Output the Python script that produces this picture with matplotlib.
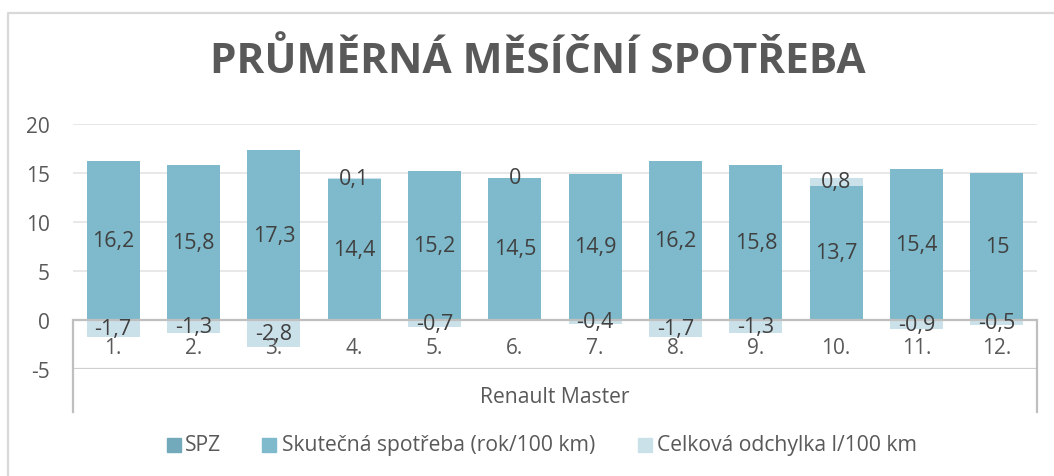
import matplotlib
matplotlib.use('Agg')
import matplotlib.pyplot as plt
from matplotlib.patches import Rectangle
from matplotlib.lines import Line2D

# ---- data ----
months = ['1.', '2.', '3.', '4.', '5.', '6.', '7.', '8.', '9.', '10.', '11.', '12.']
spotreba = [16.2, 15.8, 17.3, 14.4, 15.2, 14.5, 14.9, 16.2, 15.8, 13.7, 15.4, 15]
odchylka = [-1.7, -1.3, -2.8, 0.1, -0.7, 0, -0.4, -1.7, -1.3, 0.8, -0.9, -0.5]
group_label = 'Renault Master'
series_names = ['SPZ', 'Skutečná spotřeba (rok/100 km)', 'Celková odchylka l/100 km']
title = 'PRŮMĚRNÁ MĚSÍČNÍ SPOTŘEBA'
yticks = [-5, 0, 5, 10, 15, 20]

# ---- style ----
FONT = 'Open Sans'
C_SPZ = '#72AABB'
C_SKUT = '#7EBACB'
C_ODCH = '#CBE1E9'
TXT = '#595959'
LBL = '#404040'
FS_LBL = 15.5
FS_TICK = 15
FS_LEG = 15.2

W, H = 1054, 477
fig = plt.figure(figsize=(W / 100, H / 100), dpi=100)
fig.patch.set_facecolor('white')

def fx(px):
    return px / W

def fy(py):
    return 1 - py / H

ax_l, ax_r, ax_t, ax_b = 73, 1037, 125, 370
ax = fig.add_axes([fx(ax_l), fy(ax_b), fx(ax_r) - fx(ax_l), fy(ax_t) - fy(ax_b)])
ax.set_xlim(-0.5, len(months) - 0.5)
ax.set_ylim(-5, 20)
for s in ax.spines.values():
    s.set_visible(False)
ax.set_xticks([])
ax.set_yticks(yticks)
ax.set_yticklabels([str(v) for v in yticks], fontfamily=FONT, fontsize=FS_TICK, color=TXT)
ax.tick_params(axis='y', length=0, pad=16.5)

# gridlines
for v in [5, 10, 15, 20]:
    ax.axhline(v, color='#E6E6E6', lw=1.3, zorder=0)
ax.axhline(0, color='#BFBFBF', lw=1.6, zorder=3)
ax.axhline(-5, color='#CFCFCF', lw=1.6, zorder=3)

x = list(range(len(months)))
bw = 0.66
ax.bar(x, spotreba, width=bw, color=C_SKUT, zorder=2)
bottoms = [s if d >= 0 else 0 for s, d in zip(spotreba, odchylka)]
ax.bar(x, odchylka, width=bw, bottom=bottoms, color=C_ODCH, zorder=2)

def fmt(v):
    return f"{v:g}".replace('.', ',')

for i, (s, d, b) in enumerate(zip(spotreba, odchylka, bottoms)):
    ax.text(i, s / 2, fmt(s), ha='center', va='center', fontfamily=FONT,
            fontsize=FS_LBL, color=LBL, zorder=5)
    ax.text(i, b + d / 2, fmt(d), ha='center', va='center', fontfamily=FONT,
            fontsize=FS_LBL, color=LBL, zorder=5)
    ax.text(i, -2.85, months[i], ha='center', va='center', fontfamily=FONT,
            fontsize=FS_TICK, color=TXT, zorder=5)

# category group box
for xp in [ax_l, ax_r]:
    fig.add_artist(Line2D([fx(xp), fx(xp)], [fy(321), fy(413)], color='#BFBFBF', lw=1.6))
fig.text(fx((ax_l + ax_r) / 2), fy(398), group_label, ha='center', va='center',
         fontfamily=FONT, fontsize=FS_LEG, color=TXT)

# chart border
fig.add_artist(Line2D([fx(8), fx(8), fx(1054)], [fy(477), fy(13.5), fy(13.5)],
                      color='#D9D9D9', lw=1.6))

# title
fig.text(fx(538), fy(62), title, ha='center', va='center', fontfamily=FONT,
         fontweight='bold', fontsize=30.5, color=TXT)

# legend
leg_sq = [167, 262, 638]
leg_tx = [185, 282, 657]
for sq, tx, name, c in zip(leg_sq, leg_tx, series_names, [C_SPZ, C_SKUT, C_ODCH]):
    fig.add_artist(Rectangle((fx(sq), fy(453)), fx(14), 14 / H, color=c,
                             transform=fig.transFigure))
    fig.text(fx(tx), fy(446), name, ha='left', va='center', fontfamily=FONT,
             fontsize=FS_LEG, color=TXT)

fig.savefig('out.png', dpi=100)
